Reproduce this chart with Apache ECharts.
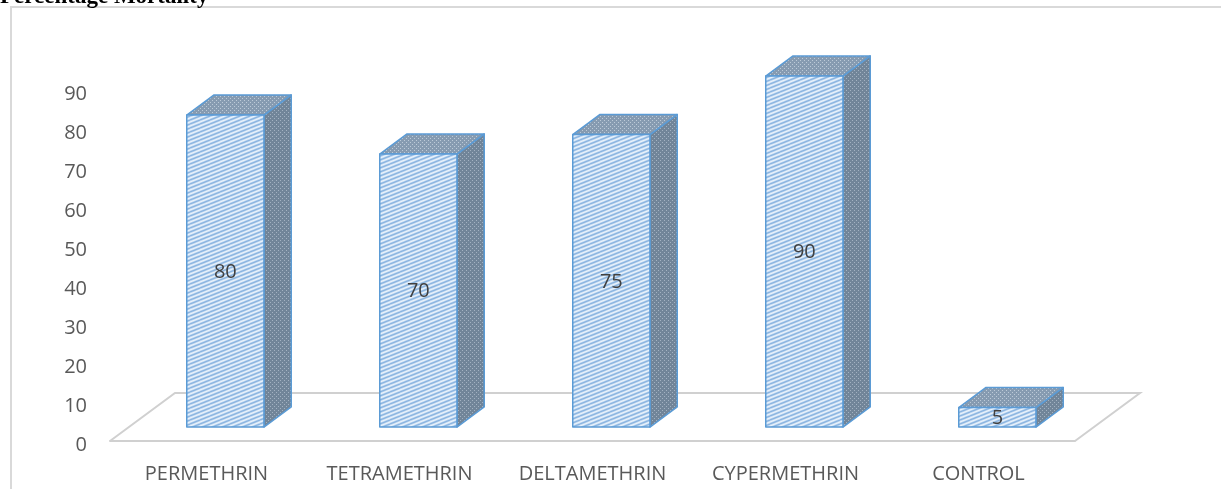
<!DOCTYPE html>
<html>
<head>
<meta charset="utf-8">
<script src="https://cdn.jsdelivr.net/npm/echarts@6/dist/echarts.min.js"></script>
<style>
    html, body { margin: 0; padding: 0; background: #fff; }
    #mortality { width: 1221px; height: 489px; }
</style>
</head>
<body>
<div id="mortality"></div>
<script>
    const categories = ['PERMETHRIN', 'TETRAMETHRIN', 'DELTAMETHRIN', 'CYPERMETHRIN', 'CONTROL'];
    const mortality = [80, 70, 75, 90, 5];
    const yMin = 0, yMax = 90, yStep = 10;

    // depth of the floor in pixels (x to the right, y upwards)
    const DEPTH_X = 65, DEPTH_Y = -48;
    const FRONT = 0.29, BACK = 0.71;

    function makePattern(w, h, bg, draw) {
        let c = document.createElement('canvas');
        c.width = w; c.height = h;
        let ctx = c.getContext('2d');
        ctx.fillStyle = bg;
        ctx.fillRect(0, 0, w, h);
        draw(ctx);
        return { image: c, repeat: 'repeat' };
    }

    const frontFill = makePattern(10, 4, '#c6dcf3', function (ctx) {
        ctx.lineWidth = 1.3;
        ctx.strokeStyle = '#8ab4e0';
        [-4, 0, 4, 8].forEach(function (o) {
            ctx.beginPath(); ctx.moveTo(0, o); ctx.lineTo(10, o - 4); ctx.stroke();
        });
        ctx.lineWidth = 1;
        ctx.strokeStyle = '#eef5fc';
        [-2, 2, 6].forEach(function (o) {
            ctx.beginPath(); ctx.moveTo(0, o); ctx.lineTo(10, o - 4); ctx.stroke();
        });
    });
    const sideFill = makePattern(4, 4, '#718599', function (ctx) {
        ctx.fillStyle = '#a3b2c2';
        ctx.fillRect(0, 0, 1, 1);
        ctx.fillRect(2, 2, 1, 1);
    });
    const topFill = makePattern(4, 4, '#869bb1', function (ctx) {
        ctx.fillStyle = '#bccad8';
        ctx.fillRect(0, 0, 1, 1);
        ctx.fillRect(2, 2, 1, 1);
    });

    function renderFloor(params, api) {
        let band = api.size([1, 0])[0];
        let a = api.coord([0, 0]);
        let b = api.coord([categories.length - 1, 0]);
        let x0 = a[0] - band / 2, x1 = b[0] + band / 2, y = a[1];
        return {
            type: 'polyline',
            shape: {
                points: [[x0, y], [x0 + DEPTH_X, y + DEPTH_Y], [x1 + DEPTH_X, y + DEPTH_Y], [x1, y]]
            },
            style: { stroke: '#d0d0d0', lineWidth: 2, fill: 'none' }
        };
    }

    function renderBar(params, api) {
        let idx = api.value(0);
        let top = api.coord([idx, api.value(1)]);
        let base = api.coord([idx, 0]);
        let band = api.size([1, 0])[0];
        let w = band * 0.4;
        let x0 = base[0] - w / 2 + DEPTH_X * FRONT;
        let yb = base[1] + DEPTH_Y * FRONT;
        let yt = top[1] + DEPTH_Y * FRONT;
        let dx = DEPTH_X * (BACK - FRONT), dy = DEPTH_Y * (BACK - FRONT);
        let edge = { stroke: '#5b9bd5', lineWidth: 1.5, lineJoin: 'round' };
        return {
            type: 'group',
            children: [
                {
                    type: 'polygon',
                    shape: { points: [[x0 + w, yb], [x0 + w + dx, yb + dy], [x0 + w + dx, yt + dy], [x0 + w, yt]] },
                    style: Object.assign({ fill: sideFill }, edge)
                },
                {
                    type: 'polygon',
                    shape: { points: [[x0, yt], [x0 + dx, yt + dy], [x0 + w + dx, yt + dy], [x0 + w, yt]] },
                    style: Object.assign({ fill: topFill }, edge)
                },
                {
                    type: 'rect',
                    shape: { x: x0, y: yt, width: w, height: yb - yt },
                    style: Object.assign({ fill: frontFill }, edge)
                },
                {
                    type: 'text',
                    style: {
                        x: x0 + w / 2, y: (yt + yb) / 2 + 1,
                        text: String(api.value(1)),
                        align: 'center', verticalAlign: 'middle',
                        fill: '#404040', font: '20px "Open Sans"'
                    }
                }
            ]
        };
    }

    let chart = echarts.init(document.getElementById('mortality'));
    chart.setOption({
        animation: false,
        graphic: [
            {
                type: 'rect', left: 10, top: 6, z: 0,
                shape: { width: 1400, height: 700 },
                style: { stroke: '#d9d9d9', lineWidth: 2, fill: 'transparent' }
            },
            {
                type: 'text', left: 0, top: -14, z: 10,
                style: { text: 'Percentage Mortality', font: 'bold 23px "Liberation Serif"', fill: '#000' }
            }
        ],
        grid: { left: 110, right: 146, top: 90, bottom: 48 },
        xAxis: {
            type: 'category',
            data: categories,
            axisLine: { lineStyle: { color: '#d0d0d0', width: 2 } },
            axisTick: { length: 7, lineStyle: { color: '#d0d0d0', width: 2 } },
            axisLabel: { margin: 23, color: '#595959', fontSize: 20, fontFamily: 'Open Sans' }
        },
        yAxis: {
            type: 'value',
            min: yMin, max: yMax, interval: yStep,
            axisLine: { show: false },
            axisTick: { show: false },
            splitLine: { show: false },
            axisLabel: {
                margin: 23,
                formatter: '{v|{value}}',
                rich: { v: { padding: [8, 0, 0, 0], color: '#595959', fontSize: 20, fontFamily: 'Open Sans' } }
            }
        },
        series: [
            {
                type: 'custom', z: 1, silent: true,
                renderItem: renderFloor,
                data: [[0, 0]]
            },
            {
                type: 'custom', z: 2,
                renderItem: renderBar,
                data: mortality.map(function (v, i) { return [i, v]; })
            }
        ]
    });
</script>
</body>
</html>
